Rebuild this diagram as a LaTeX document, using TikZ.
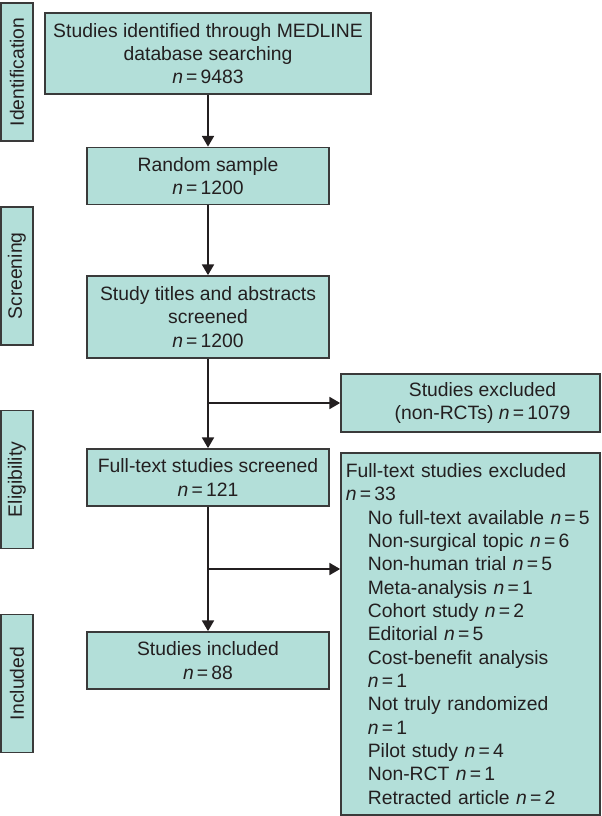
\documentclass[tikz,border=0pt]{standalone}
\usepackage{fontspec}
\setmainfont{Liberation Sans}
\usetikzlibrary{arrows.meta}
\definecolor{boxfill}{HTML}{B3DFD9}
\definecolor{boxline}{HTML}{3A3A3A}
\definecolor{ink}{HTML}{231F20}
\tikzset{box/.style = {draw=boxline, fill=boxfill, line width=1.3pt, inner sep=0pt, align=center, text=ink, font=\fontsize{14.5}{17.5}\selectfont}}
\tikzset{phase/.style = {box, rotate=90, minimum width=103.5pt, minimum height=24pt}}
\tikzset{stage/.style = {box, minimum width=181.5pt, minimum height=42.75pt}}
\tikzset{flow/.style = {line width=1.2pt, draw=ink, -{Triangle[length=8pt, width=9pt]}}}
\newcommand{\nval}[1]{\textit{n}\,=\,#1}
\newcommand{\ind}{\hspace*{16.5pt}}

\begin{document}
\begin{tikzpicture}[x=0.75pt, y=-0.75pt]
\useasboundingbox (0,0) rectangle (602,816);
% phase labels
\node [phase] (ident) at (17,72) {Identification};
\node [phase] (screen) at (17,276) {Screening};
\node [phase] (elig) at (17,479.5) {Eligibility};
\node [phase] (incl) at (17,683.5) {Included};
% main flow
\node [box, minimum width=244.5pt, minimum height=60.75pt] (found) at (208,53.5) {Studies identified through MEDLINE\\database searching\\\nval{9483}};
\node [stage] (sample) at (208,176) {Random sample\\\nval{1200}};
\node [stage, minimum height=61.5pt] (titles) at (208,317) {Study titles and abstracts\\screened\\\nval{1200}};
\node [stage] (fulltext) at (208,477.5) {Full-text studies screened\\\nval{121}};
\node [stage] (included) at (208,660.5) {Studies included\\\nval{88}};
% exclusions
\node [box, minimum width=194.25pt, minimum height=43.5pt] (nonrct) at (470.5,403) {\hspace*{18pt}Studies excluded\\\hspace*{18pt}(non-RCTs) \nval{1079}};
\node [box, align=left, text width=187pt, minimum width=194.25pt, minimum height=271.5pt] (excl) at (470.5,634) {Full-text studies excluded\\\nval{33}\\
\ind No full-text available \nval{5}\\
\ind Non-surgical topic \nval{6}\\
\ind Non-human trial \nval{5}\\
\ind Meta-analysis \nval{1}\\
\ind Cohort study \nval{2}\\
\ind Editorial \nval{5}\\
\ind Cost-benefit analysis\\
\ind \nval{1}\\
\ind Not truly randomized\\
\ind \nval{1}\\
\ind Pilot study \nval{4}\\
\ind Non-RCT \nval{1}\\
\ind Retracted article \nval{2}};
\coordinate (split1) at (208,403);
\coordinate (split2) at (208,569);
\draw [flow] (found) -- (sample);
\draw [flow] (sample) -- (titles);
\draw [flow] (titles) -- (fulltext);
\draw [flow] (split1) -- (nonrct);
\draw [flow] (fulltext) -- (included);
\draw [flow] (split2) -- (split2 -| excl.west);
\end{tikzpicture}
\end{document}
